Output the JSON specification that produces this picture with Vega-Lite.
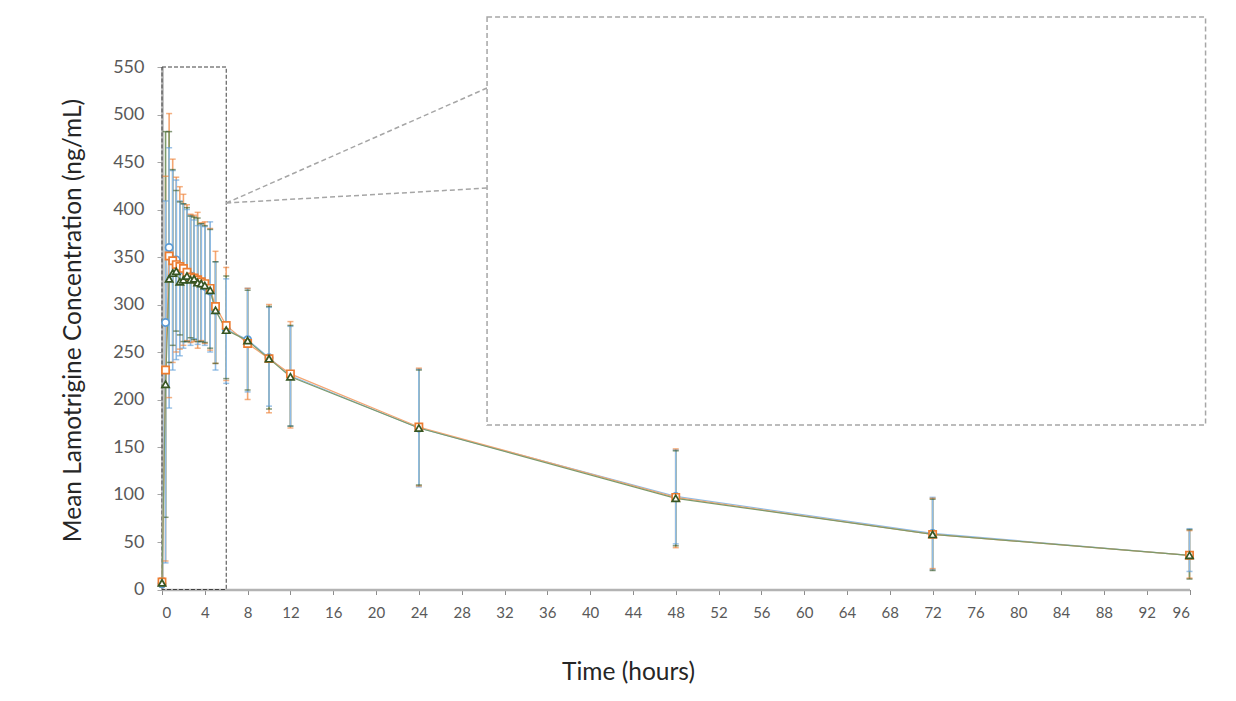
{
  "$schema": "https://vega.github.io/schema/vega-lite/v6.json",
  "width": 1027.5,
  "height": 522.5,
  "autosize": {"type": "none"},
  "padding": {"left": 162, "top": 67, "right": 46.5, "bottom": 111.5},
  "background": "white",
  "config": {
    "font": "Lato",
    "view": {"stroke": null},
    "axis": {"grid": false, "titleFontWeight": "normal", "labelColor": "#595959", "titleColor": "#262626"},
    "legend": {"orient": "none", "legendX": 97, "legendY": 484, "direction": "horizontal", "title": null,
      "symbolSize": 60, "symbolStrokeWidth": 1.6, "labelFontSize": 17.5, "labelColor": "#404040", "labelOffset": 14, "columnPadding": 22}
  },
  "data": {"values": [
      {"s": "Lamictal®", "m": 0, "h": 0, "c": 6, "lo": 3, "hi": 9},
      {"s": "Lamictal®", "m": 20, "h": 0.333, "c": 281, "lo": 28, "hi": 409},
      {"s": "Lamictal®", "m": 40, "h": 0.667, "c": 360, "lo": 191, "hi": 465},
      {"s": "Lamictal®", "m": 60, "h": 1, "c": 347, "lo": 231, "hi": 441},
      {"s": "Lamictal®", "m": 80, "h": 1.333, "c": 347, "lo": 242, "hi": 431},
      {"s": "Lamictal®", "m": 100, "h": 1.667, "c": 340, "lo": 246, "hi": 409},
      {"s": "Lamictal®", "m": 120, "h": 2, "c": 336, "lo": 254, "hi": 406},
      {"s": "Lamictal®", "m": 140, "h": 2.333, "c": 333, "lo": 261, "hi": 400},
      {"s": "Lamictal®", "m": 160, "h": 2.667, "c": 330, "lo": 257, "hi": 394},
      {"s": "Lamictal®", "m": 180, "h": 3, "c": 328, "lo": 264, "hi": 389},
      {"s": "Lamictal®", "m": 200, "h": 3.333, "c": 324, "lo": 258, "hi": 383},
      {"s": "Lamictal®", "m": 220, "h": 3.667, "c": 322, "lo": 261, "hi": 385},
      {"s": "Lamictal®", "m": 240, "h": 4, "c": 319, "lo": 257, "hi": 382},
      {"s": "Lamictal®", "m": 270, "h": 4.5, "c": 314, "lo": 250, "hi": 387},
      {"s": "Lamictal®", "m": 300, "h": 5, "c": 294, "lo": 231, "hi": 345},
      {"s": "Lamictal®", "m": 360, "h": 6, "c": 274, "lo": 217, "hi": 327},
      {"s": "Lamictal®", "m": 480, "h": 8, "c": 263, "lo": 208, "hi": 317},
      {"s": "Lamictal®", "m": 600, "h": 10, "c": 244, "lo": 193, "hi": 297},
      {"s": "Lamictal®", "m": 720, "h": 12, "c": 225, "lo": 172, "hi": 277},
      {"s": "Lamictal®", "m": 1440, "h": 24, "c": 170, "lo": 108, "hi": 232},
      {"s": "Lamictal®", "m": 2880, "h": 48, "c": 98, "lo": 48, "hi": 147},
      {"s": "Lamictal®", "m": 4320, "h": 72, "c": 59, "lo": 21, "hi": 97},
      {"s": "Lamictal®", "m": 5760, "h": 96, "c": 36, "lo": 19, "hi": 64},
      {"s": "Generic-high", "m": 0, "h": 0, "c": 8, "lo": 4, "hi": 12},
      {"s": "Generic-high", "m": 20, "h": 0.333, "c": 231, "lo": 30, "hi": 435},
      {"s": "Generic-high", "m": 40, "h": 0.667, "c": 351, "lo": 202, "hi": 501},
      {"s": "Generic-high", "m": 60, "h": 1, "c": 346, "lo": 239, "hi": 453},
      {"s": "Generic-high", "m": 80, "h": 1.333, "c": 342, "lo": 250, "hi": 434},
      {"s": "Generic-high", "m": 100, "h": 1.667, "c": 340, "lo": 253, "hi": 424},
      {"s": "Generic-high", "m": 120, "h": 2, "c": 338, "lo": 257, "hi": 416},
      {"s": "Generic-high", "m": 140, "h": 2.333, "c": 334, "lo": 262, "hi": 405},
      {"s": "Generic-high", "m": 160, "h": 2.667, "c": 329, "lo": 260, "hi": 395},
      {"s": "Generic-high", "m": 180, "h": 3, "c": 328, "lo": 261, "hi": 394},
      {"s": "Generic-high", "m": 200, "h": 3.333, "c": 326, "lo": 254, "hi": 397},
      {"s": "Generic-high", "m": 220, "h": 3.667, "c": 324, "lo": 262, "hi": 386},
      {"s": "Generic-high", "m": 240, "h": 4, "c": 322, "lo": 259, "hi": 387},
      {"s": "Generic-high", "m": 270, "h": 4.5, "c": 317, "lo": 252, "hi": 380},
      {"s": "Generic-high", "m": 300, "h": 5, "c": 298, "lo": 238, "hi": 356},
      {"s": "Generic-high", "m": 360, "h": 6, "c": 278, "lo": 220, "hi": 339},
      {"s": "Generic-high", "m": 480, "h": 8, "c": 259, "lo": 200, "hi": 317},
      {"s": "Generic-high", "m": 600, "h": 10, "c": 243, "lo": 186, "hi": 300},
      {"s": "Generic-high", "m": 720, "h": 12, "c": 227, "lo": 170, "hi": 282},
      {"s": "Generic-high", "m": 1440, "h": 24, "c": 171, "lo": 109, "hi": 233},
      {"s": "Generic-high", "m": 2880, "h": 48, "c": 97, "lo": 44, "hi": 148},
      {"s": "Generic-high", "m": 4320, "h": 72, "c": 58, "lo": 22, "hi": 96},
      {"s": "Generic-high", "m": 5760, "h": 96, "c": 36, "lo": 12, "hi": 62},
      {"s": "Generic-low", "m": 0, "h": 0, "c": 7, "lo": 3, "hi": 11},
      {"s": "Generic-low", "m": 20, "h": 0.333, "c": 216, "lo": 76, "hi": 482},
      {"s": "Generic-low", "m": 40, "h": 0.667, "c": 327, "lo": 239, "hi": 482},
      {"s": "Generic-low", "m": 60, "h": 1, "c": 333, "lo": 257, "hi": 442},
      {"s": "Generic-low", "m": 80, "h": 1.333, "c": 335, "lo": 272, "hi": 420},
      {"s": "Generic-low", "m": 100, "h": 1.667, "c": 324, "lo": 268, "hi": 408},
      {"s": "Generic-low", "m": 120, "h": 2, "c": 326, "lo": 261, "hi": 406},
      {"s": "Generic-low", "m": 140, "h": 2.333, "c": 330, "lo": 261, "hi": 402},
      {"s": "Generic-low", "m": 160, "h": 2.667, "c": 326, "lo": 265, "hi": 393},
      {"s": "Generic-low", "m": 180, "h": 3, "c": 327, "lo": 263, "hi": 392},
      {"s": "Generic-low", "m": 200, "h": 3.333, "c": 323, "lo": 261, "hi": 391},
      {"s": "Generic-low", "m": 220, "h": 3.667, "c": 322, "lo": 261, "hi": 385},
      {"s": "Generic-low", "m": 240, "h": 4, "c": 320, "lo": 260, "hi": 383},
      {"s": "Generic-low", "m": 270, "h": 4.5, "c": 315, "lo": 254, "hi": 379},
      {"s": "Generic-low", "m": 300, "h": 5, "c": 294, "lo": 238, "hi": 345},
      {"s": "Generic-low", "m": 360, "h": 6, "c": 273, "lo": 222, "hi": 330},
      {"s": "Generic-low", "m": 480, "h": 8, "c": 262, "lo": 210, "hi": 315},
      {"s": "Generic-low", "m": 600, "h": 10, "c": 243, "lo": 190, "hi": 298},
      {"s": "Generic-low", "m": 720, "h": 12, "c": 224, "lo": 172, "hi": 278},
      {"s": "Generic-low", "m": 1440, "h": 24, "c": 170, "lo": 110, "hi": 231},
      {"s": "Generic-low", "m": 2880, "h": 48, "c": 96, "lo": 46, "hi": 146},
      {"s": "Generic-low", "m": 4320, "h": 72, "c": 58, "lo": 20, "hi": 95},
      {"s": "Generic-low", "m": 5760, "h": 96, "c": 36, "lo": 11, "hi": 63}
  ]},
  "layer": [
    {
      "data": {"values": [{}]},
      "mark": {"type": "rect", "fillOpacity": 0, "stroke": "#404040", "strokeDash": [4, 2], "strokeWidth": 1, "clip": false},
      "encoding": {
        "x": {"datum": 0, "type": "quantitative"},
        "x2": {"datum": 6},
        "y": {"datum": 0, "type": "quantitative"},
        "y2": {"datum": 550}
      }
    },
    {
      "data": {"values": [{}]},
      "mark": {"type": "rule", "stroke": "#a6a6a6", "strokeDash": [5, 3], "strokeWidth": 1.5, "clip": false},
      "encoding": {
        "x": {"datum": 6, "type": "quantitative"},
        "x2": {"datum": 30.37},
        "y": {"datum": 406.8, "type": "quantitative"},
        "y2": {"datum": 527.9}
      }
    },
    {
      "data": {"values": [{}]},
      "mark": {"type": "rule", "stroke": "#a6a6a6", "strokeDash": [5, 3], "strokeWidth": 1.5, "clip": false},
      "encoding": {
        "x": {"datum": 6, "type": "quantitative"},
        "x2": {"datum": 30.37},
        "y": {"datum": 406.8, "type": "quantitative"},
        "y2": {"datum": 422.6}
      }
    },
    {
      "data": {"values": [{}]},
      "mark": {"type": "rect", "fill": "white", "stroke": "#a6a6a6", "strokeDash": [5, 3], "strokeWidth": 1.5, "clip": false},
      "encoding": {
        "x": {"datum": 30.37, "type": "quantitative"},
        "x2": {"datum": 97.5},
        "y": {"datum": 602.6, "type": "quantitative"},
        "y2": {"datum": 173.2}
      }
    },
    {
      "transform": [{"filter": {"field": "s", "oneOf": ["Generic-high", "Generic-low"]}}],
      "mark": {"type": "rule", "strokeWidth": 1.6},
      "encoding": {
        "x": {"field": "h", "type": "quantitative"},
        "y": {"field": "lo", "type": "quantitative"},
        "y2": {"field": "hi"},
        "stroke": {"field": "s", "type": "nominal", "scale": {"domain": ["Lamictal®", "Generic-high", "Generic-low"], "range": ["#8fbce6", "#f4a672", "#7d9a6b"]}, "legend": null}
      }
    },
    {
      "transform": [{"filter": {"field": "s", "equal": "Lamictal®"}}],
      "mark": {"type": "rule", "strokeWidth": 1.6},
      "encoding": {
        "x": {"field": "h", "type": "quantitative"},
        "y": {"field": "lo", "type": "quantitative"},
        "y2": {"field": "hi"},
        "stroke": {"field": "s", "type": "nominal", "legend": null}
      }
    },
    {
      "mark": {"type": "tick", "orient": "horizontal", "size": 6, "thickness": 1.5, "opacity": 0.6},
      "encoding": {
        "x": {"field": "h", "type": "quantitative"},
        "y": {"field": "lo", "type": "quantitative"},
        "color": {"field": "s", "type": "nominal", "legend": null}
      }
    },
    {
      "mark": {"type": "tick", "orient": "horizontal", "size": 6, "thickness": 1.5, "opacity": 0.6},
      "encoding": {
        "x": {"field": "h", "type": "quantitative"},
        "y": {"field": "hi", "type": "quantitative"},
        "color": {"field": "s", "type": "nominal", "legend": null}
      }
    },
    {
      "mark": {"type": "line", "strokeWidth": 1.2},
      "encoding": {
        "x": {"field": "h", "type": "quantitative"},
        "y": {"field": "c", "type": "quantitative"},
        "stroke": {"field": "s", "type": "nominal", "legend": null}
      }
    },
    {
      "mark": {"type": "point", "filled": false, "fill": "white", "strokeWidth": 1.7, "size": 52, "opacity": 1},
      "encoding": {
        "x": {"field": "h", "type": "quantitative", "scale": {"domain": [0, 96], "nice": false, "zero": false},
          "axis": {"orient": "bottom", "values": [0,4,8,12,16,20,24,28,32,36,40,44,48,52,56,60,64,68,72,76,80,84,88,92,96],
            "domainColor": "#b3b3b3", "domainWidth": 2.5, "tickColor": "#8c8c8c", "tickSize": 5, "labelFontSize": 15, "labelPadding": 11,
            "title": "Time (hours)", "titleFontSize": 24.5, "titleX": 466, "titleY": 83, "titleBaseline": "middle"}},
        "y": {"field": "c", "type": "quantitative", "scale": {"domain": [0, 550], "nice": false},
          "axis": {"orient": "left", "values": [0,50,100,150,200,250,300,350,400,450,500,550],
            "domainColor": "#b3b3b3", "domainWidth": 2.5, "tickColor": "#a6a6a6", "tickSize": 5, "labelFontSize": 18, "labelPadding": 13,
            "title": "Mean Lamotrigine Concentration (ng/mL)", "titleFontSize": 24.5, "titleX": -89, "titleY": 253, "titleBaseline": "middle", "titleAlign": "center", "titleAngle": 270}},
        "color": {"field": "s", "type": "nominal", "scale": {"domain": ["Lamictal®", "Generic-high", "Generic-low"], "range": ["#5b9bd5", "#ed7d31", "#375623"]},
          "legend": {"title": null, "orient": "none", "legendX": 97, "legendY": 484, "direction": "horizontal",
            "symbolSize": 60, "symbolStrokeWidth": 1.6, "labelFontSize": 17.5, "labelColor": "#404040", "labelOffset": 14, "columnPadding": 22}},
        "shape": {"field": "s", "type": "nominal", "scale": {"domain": ["Lamictal®", "Generic-high", "Generic-low"], "range": ["circle", "square", "triangle-up"]}, "legend": null}
      }
    }
  ]
}
